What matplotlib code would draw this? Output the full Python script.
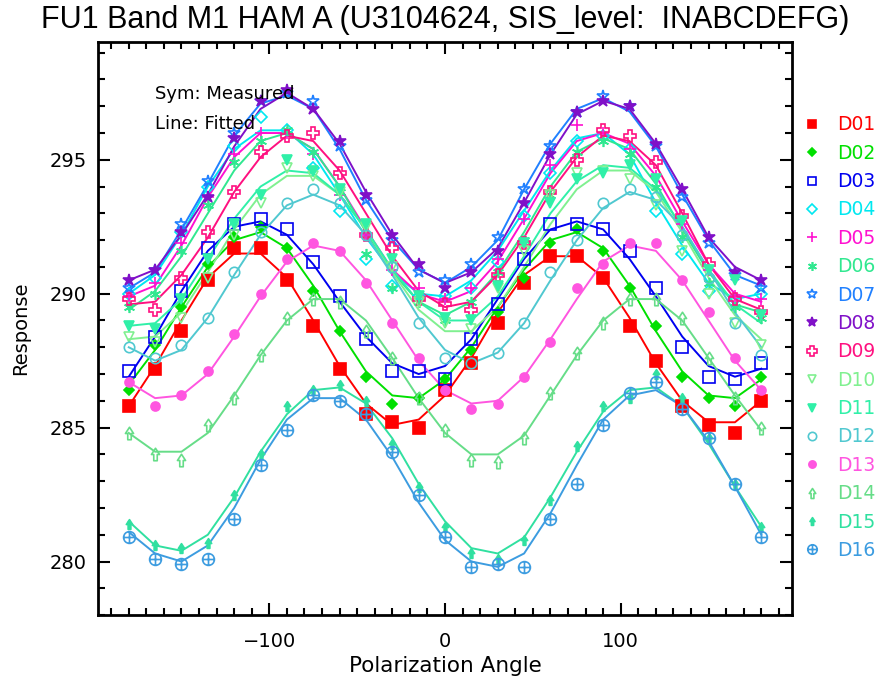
import matplotlib
matplotlib.use('Agg')
import numpy as np
import matplotlib.pyplot as plt
from matplotlib.path import Path
from matplotlib.lines import Line2D
from matplotlib.ticker import MultipleLocator

angles = np.arange(-180, 181, 15)

names = ['D01', 'D02', 'D03', 'D04', 'D05', 'D06', 'D07', 'D08',
         'D09', 'D10', 'D11', 'D12', 'D13', 'D14', 'D15', 'D16']
colors = ['#ff0000', '#00e000', '#0000f0', '#00e8f0', '#ff10d0', '#30e890',
          '#2080ff', '#8010c8', '#ff1080', '#80f090', '#30f0a8', '#50c8d0',
          '#ff55e0', '#66dd88', '#30e0a0', '#3c9ce0']

# measured values (symbols)
d01_m = [285.8, 287.2, 288.6, 290.5, 291.7, 291.7, 290.5, 288.8, 287.2, 285.5, 285.2, 285.0, 286.4,
         287.4, 288.9, 290.4, 291.4, 291.4, 290.6, 288.8, 287.5, 285.8, 285.1, 284.8, 286.0]
d02_m = [286.4, 288.1, 289.5, 291.1, 292.1, 292.5, 291.7, 290.1, 288.6, 286.9, 285.9, 286.1, 286.8,
         287.9, 289.3, 290.6, 291.9, 292.4, 291.6, 290.2, 288.8, 286.9, 286.1, 285.8, 286.9]
d03_m = [287.1, 288.4, 290.1, 291.7, 292.6, 292.8, 292.4, 291.2, 289.9, 288.3, 287.1, 287.1, 286.8,
         288.3, 289.6, 291.3, 292.6, 292.6, 292.4, 291.6, 290.2, 288.0, 286.9, 286.8, 287.4]
d04_m = [290.0, 290.6, 292.3, 294.0, 295.5, 296.6, 296.1, 294.7, 293.1, 291.3, 290.3, 289.9, 289.9,
         290.2, 291.2, 292.9, 294.5, 295.7, 295.9, 295.4, 293.1, 291.5, 290.1, 289.8, 290.0]
d05_m = [289.9, 290.4, 291.9, 293.6, 295.2, 296.0, 296.0, 295.2, 293.7, 292.2, 290.9, 290.2, 289.8,
         290.2, 291.3, 292.8, 294.8, 296.3, 296.0, 295.4, 294.4, 292.6, 290.9, 289.9, 289.8]
d06_m = [289.5, 290.0, 291.6, 293.3, 294.9, 295.7, 296.1, 295.3, 293.8, 291.5, 290.2, 289.7, 289.0,
         289.7, 290.8, 292.0, 293.7, 295.3, 295.7, 295.2, 294.0, 292.1, 290.4, 289.5, 289.1]
d07_m = [290.2, 290.9, 292.6, 294.2, 296.0, 297.2, 297.5, 297.2, 295.5, 293.5, 292.0, 290.8, 290.5,
         291.1, 292.1, 293.9, 295.5, 296.8, 297.4, 297.0, 295.5, 293.6, 291.9, 290.7, 290.2]
d08_m = [290.5, 290.9, 292.3, 293.6, 295.8, 297.2, 297.6, 296.9, 295.7, 293.7, 292.2, 291.1, 290.2,
         290.8, 291.6, 293.4, 295.2, 296.8, 297.2, 297.0, 295.6, 293.9, 292.1, 290.8, 290.5]
d09_m = [289.8, 289.4, 290.6, 292.3, 293.8, 295.3, 295.9, 296.0, 294.5, 292.2, 291.7, 289.8, 289.6,
         289.4, 290.7, 291.9, 293.8, 295.0, 296.1, 295.9, 294.9, 292.9, 291.1, 289.8, 289.3]
d10_m = [288.4, 288.2, 289.1, 290.6, 292.2, 293.4, 294.7, 294.4, 293.8, 292.5, 291.0, 289.7, 288.9,
         288.7, 290.2, 291.6, 293.7, 294.5, 294.6, 294.3, 293.3, 291.6, 290.0, 288.9, 288.1]
d11_m = [288.8, 288.7, 289.8, 291.3, 292.6, 293.7, 295.0, 294.6, 293.9, 292.6, 291.3, 289.9, 289.1,
         289.0, 290.3, 291.9, 293.4, 294.3, 294.5, 294.8, 294.3, 292.7, 290.9, 290.5, 289.2]
d12_m = [288.0, 287.6, 288.1, 289.1, 290.8, 292.3, 293.4, 293.9, 293.4, 292.2, 291.0, 288.9, 287.6,
         287.4, 287.8, 288.9, 290.8, 292.0, 293.4, 293.9, 293.6, 292.2, 290.6, 288.9, 287.7]
d13_m = [286.7, 285.8, 286.2, 287.1, 288.5, 290.0, 291.3, 291.9, 291.6, 290.4, 288.9, 287.6, 286.4,
         285.7, 285.9, 286.9, 288.2, 290.2, 291.1, 291.9, 291.9, 290.5, 289.3, 287.6, 286.4]
d14_m = [284.8, 284.0, 283.8, 285.1, 286.1, 287.7, 289.1, 289.8, 289.7, 288.6, 287.6, 286.1, 284.9,
         283.8, 283.7, 284.6, 286.3, 287.8, 288.9, 289.8, 289.8, 289.1, 287.6, 286.1, 285.0]
d15_m = [281.4, 280.6, 280.5, 280.7, 282.5, 284.0, 285.8, 286.4, 286.6, 286.0, 284.4, 282.8, 281.3,
         280.3, 280.1, 280.8, 282.3, 284.3, 285.8, 286.1, 287.0, 286.1, 284.6, 282.9, 281.3]
d16_m = [280.9, 280.1, 279.9, 280.1, 281.6, 283.6, 284.9, 286.2, 286.0, 285.5, 284.1, 282.5, 280.9,
         279.8, 279.9, 279.8, 281.6, 282.9, 285.1, 286.3, 286.7, 285.7, 284.6, 282.9, 280.9]

# fitted values (lines)
d01_f = [285.8, 287.3, 289.0, 290.6, 291.5, 291.5, 290.6, 289.0, 287.3, 285.9, 285.1, 285.3, 286.2,
         287.6, 289.3, 290.7, 291.4, 291.4, 290.6, 289.1, 287.4, 286.0, 285.2, 285.2, 286.0]
d02_f = [286.6, 287.9, 289.5, 291.0, 292.0, 292.3, 291.7, 290.3, 288.6, 287.1, 286.2, 286.1, 286.8,
         288.0, 289.5, 290.9, 292.0, 292.3, 291.7, 290.3, 288.6, 287.1, 286.2, 286.1, 286.8]
d03_f = [286.9, 288.4, 290.1, 291.6, 292.5, 292.7, 292.2, 291.1, 289.7, 288.4, 287.4, 287.0, 287.3,
         288.3, 289.8, 291.3, 292.4, 292.7, 292.4, 291.3, 289.9, 288.4, 287.3, 286.9, 287.2]
d04_f = [290.0, 290.7, 292.2, 294.0, 295.4, 296.1, 296.1, 295.2, 293.7, 292.1, 290.8, 290.0, 289.9,
         290.5, 291.6, 293.1, 294.6, 295.8, 296.0, 295.2, 293.4, 291.8, 290.4, 289.8, 290.0]
d05_f = [289.9, 290.3, 291.8, 293.6, 295.1, 296.0, 296.0, 295.4, 294.0, 292.4, 290.9, 290.0, 289.7,
         290.1, 291.2, 292.8, 294.5, 295.7, 296.0, 295.6, 294.4, 292.7, 291.1, 290.0, 289.7]
d06_f = [289.4, 290.1, 291.4, 293.0, 294.6, 295.7, 296.0, 295.4, 294.0, 292.3, 290.8, 289.7, 289.2,
         289.7, 290.8, 292.3, 294.0, 295.3, 295.8, 295.4, 294.1, 292.4, 290.8, 289.6, 289.3]
d07_f = [290.2, 290.8, 292.4, 294.1, 295.9, 297.1, 297.4, 296.9, 295.4, 293.5, 292.0, 290.9, 290.4,
         291.0, 292.0, 293.9, 295.6, 296.9, 297.3, 296.8, 295.5, 293.7, 292.0, 290.7, 290.3]
d08_f = [290.5, 290.9, 292.2, 293.7, 295.5, 296.9, 297.5, 296.9, 295.6, 293.8, 292.2, 290.9, 290.4,
         290.8, 291.7, 293.4, 295.2, 296.7, 297.2, 296.9, 295.6, 293.9, 292.1, 291.0, 290.5]
d09_f = [289.6, 289.7, 290.7, 292.1, 293.8, 295.1, 295.9, 295.7, 294.6, 293.0, 291.4, 290.1, 289.5,
         289.7, 290.7, 292.1, 293.8, 295.1, 295.9, 295.7, 294.8, 293.0, 291.1, 289.8, 289.4]
d10_f = [288.3, 288.4, 289.3, 290.8, 292.4, 293.7, 294.4, 294.4, 293.7, 292.4, 290.8, 289.4, 288.6,
         288.6, 289.5, 291.0, 292.6, 293.9, 294.6, 294.6, 293.8, 292.3, 290.6, 289.2, 288.3]
d11_f = [288.8, 288.9, 289.8, 291.3, 292.8, 294.0, 294.6, 294.5, 293.7, 292.4, 290.9, 289.7, 289.0,
         289.0, 289.9, 291.4, 293.0, 294.2, 294.8, 294.7, 293.9, 292.5, 290.9, 289.6, 288.9]
d12_f = [288.0, 287.5, 287.9, 289.1, 290.7, 292.2, 293.3, 293.7, 293.3, 292.2, 290.7, 289.1, 287.9,
         287.4, 287.8, 288.9, 290.5, 292.0, 293.2, 293.8, 293.5, 292.5, 290.9, 289.3, 288.0]
d13_f = [286.7, 286.1, 286.2, 287.0, 288.4, 289.9, 291.2, 291.8, 291.6, 290.5, 289.0, 287.5, 286.4,
         285.9, 286.0, 286.9, 288.3, 289.8, 291.2, 291.8, 291.6, 290.5, 289.0, 287.5, 286.4]
d14_f = [284.8, 284.1, 284.1, 284.8, 286.2, 287.7, 289.0, 289.8, 289.8, 289.0, 287.6, 286.1, 284.8,
         284.0, 284.0, 284.7, 286.2, 287.7, 289.0, 289.8, 289.8, 289.0, 287.6, 286.2, 284.9]
d15_f = [281.5, 280.6, 280.4, 281.0, 282.4, 284.1, 285.5, 286.4, 286.5, 285.9, 284.6, 282.9, 281.5,
         280.5, 280.3, 280.9, 282.4, 284.1, 285.6, 286.4, 286.5, 285.8, 284.4, 282.8, 281.3]
d16_f = [281.1, 280.3, 280.0, 280.6, 282.0, 283.8, 285.3, 286.1, 286.1, 285.3, 283.9, 282.2, 280.8,
         280.0, 279.8, 280.3, 281.8, 283.6, 285.3, 286.2, 286.4, 285.8, 284.5, 282.8, 281.0]

measured = [d01_m, d02_m, d03_m, d04_m, d05_m, d06_m, d07_m, d08_m,
            d09_m, d10_m, d11_m, d12_m, d13_m, d14_m, d15_m, d16_m]
fitted = [d01_f, d02_f, d03_f, d04_f, d05_f, d06_f, d07_f, d08_f,
          d09_f, d10_f, d11_f, d12_f, d13_f, d14_f, d15_f, d16_f]

# custom marker shapes
arrow = Path([(-0.28, -1), (0.28, -1), (0.28, 0), (0.65, 0), (0, 1), (-0.65, 0), (-0.28, 0), (-0.28, -1)],
             [Path.MOVETO] + [Path.LINETO] * 6 + [Path.CLOSEPOLY])
cross = Path([(-1, 0), (1, 0), (0, -1), (0, 1)], [Path.MOVETO, Path.LINETO, Path.MOVETO, Path.LINETO])
oplus = Path.make_compound_path(Path.unit_circle(), cross)

# (marker, filled, size)
styles = [('s', True, 8), ('D', True, 5), ('s', False, 8), ('D', False, 6),
          ('+', True, 9), ((6, 2, 0), True, 8), ('*', False, 9), ('*', True, 9),
          ('P', False, 8.5), ('v', False, 7.5), ('v', True, 7.5), ('o', False, 7.5),
          ('o', True, 6.5), (arrow, False, 9), (arrow, True, 7), (oplus, False, 8.5)]

fig = plt.figure(figsize=(8.83, 6.88), dpi=100)
ax = fig.add_axes([0.111, 0.106, 0.786, 0.833])

handles = []
for i in range(16):
    mk, filled, ms = styles[i]
    c = colors[i]
    fc = c if filled else 'none'
    ax.plot(angles, fitted[i], '-', color=c, lw=1.4, zorder=2)
    ax.plot(angles, measured[i], ls='none', marker=mk, ms=ms, mfc=fc, mec=c,
            mew=1.2, zorder=3)
    handles.append(Line2D([], [], ls='none', marker=mk, ms=ms * 0.8, mfc=fc, mec=c,
                          mew=1.2, label=names[i]))

ax.set_xlim(-197.5, 197.5)
ax.set_ylim(278, 299.4)
ax.xaxis.set_major_locator(MultipleLocator(100))
ax.xaxis.set_minor_locator(MultipleLocator(10))
ax.yaxis.set_major_locator(MultipleLocator(5))
ax.yaxis.set_minor_locator(MultipleLocator(1))
ax.tick_params(which='both', direction='in', top=True, right=True, width=1.5, labelsize=14)
ax.tick_params(which='major', length=8.5)
ax.tick_params(which='minor', length=5)
ax.tick_params(axis='x', pad=12)
ax.tick_params(axis='y', pad=8)
for s in ax.spines.values():
    s.set_linewidth(2)

ax.set_xlabel('Polarization Angle', fontsize=15.5, labelpad=4)
ax.set_ylabel('Response', fontsize=14, labelpad=14)
ax.set_title('FU1 Band M1 HAM A (U3104624, SIS_level:  INABCDEFG)',
             fontsize=22, family=['Liberation Sans Narrow', 'Liberation Sans', 'DejaVu Sans'], pad=10)

ax.text(-165, 297.45, 'Sym: Measured', fontsize=13, va='center')
ax.text(-165, 296.35, 'Line: Fitted', fontsize=13, va='center')

leg = ax.legend(handles=handles, loc='upper left', bbox_to_anchor=(1.005, 0.885),
                frameon=False, fontsize=13.5, handlelength=1.0, handletextpad=0.8,
                labelspacing=0.5, borderaxespad=0, labelcolor='markeredgecolor')

fig.savefig('out.png', dpi=100)
